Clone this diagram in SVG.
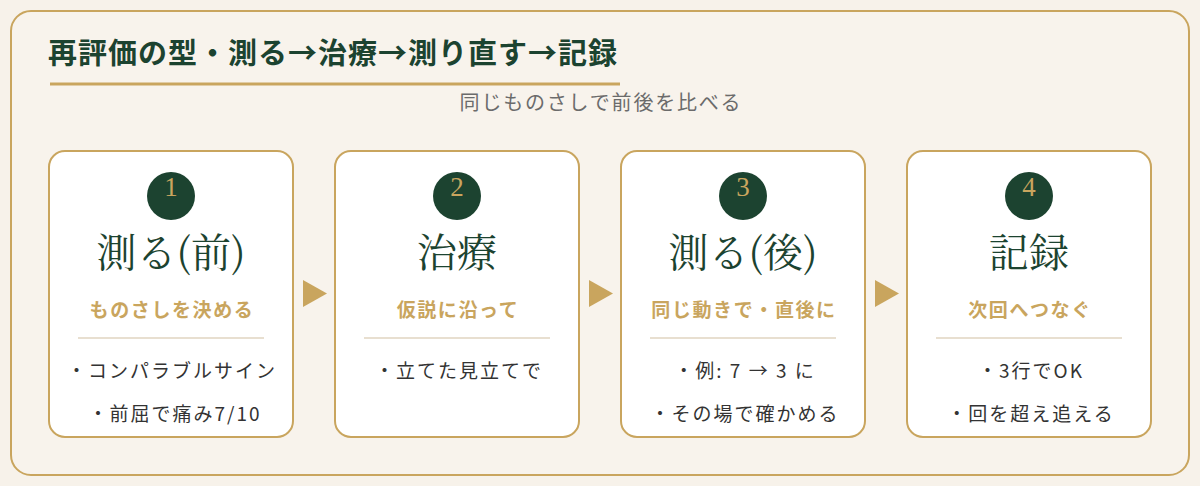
<svg xmlns="http://www.w3.org/2000/svg" width="1200" height="486" viewBox="0 0 1200 486">
  <defs>
    <style>
      .bg { fill: #F7F2EA; }
      .frame { fill: #F8F3EC; stroke: #C9A55E; stroke-width: 2; }
      .title { font-family: "Noto Sans CJK JP", sans-serif; font-weight: 700; font-size: 29px; fill: #1C4330; letter-spacing: 1px; }
      .subtitle { font-family: "Noto Sans CJK JP", sans-serif; font-size: 20px; fill: #6B6B6B; letter-spacing: 1.8px; text-anchor: middle; }
      .card { fill: #FFFFFF; stroke: #C9A55E; stroke-width: 2; }
      .badge { fill: #1C4330; }
      .num { font-family: "Liberation Serif", "Noto Serif CJK JP", serif; font-size: 27px; fill: #C9A55E; text-anchor: middle; }
      .head { font-family: "Noto Serif CJK JP", "Liberation Serif", "Noto Sans CJK JP", serif; font-size: 40px; fill: #1C4330; text-anchor: middle; }
      .sub { font-family: "Noto Sans CJK JP", sans-serif; font-weight: 700; font-size: 19px; fill: #C9A55E; text-anchor: middle; letter-spacing: 1.6px; }
      .div { stroke: #E8DFD0; stroke-width: 2; }
      .item { font-family: "Noto Sans CJK JP", sans-serif; font-size: 19px; fill: #333333; text-anchor: middle; letter-spacing: 2px; }
      .arrow { fill: #C9A55E; }
    </style>
  </defs>
  <rect class="bg" x="0" y="0" width="1200" height="486"/>
  <rect class="frame" x="11" y="11" width="1178" height="464" rx="20" ry="20"/>

  <g id="header">
    <text class="title" x="48" y="64">再評価の型・測る→治療→測り直す→記録</text>
    <line x1="50" y1="84" x2="620" y2="84" stroke="#C9A55E" stroke-width="3"/>
    <text class="subtitle" x="601" y="110">同じものさしで前後を比べる</text>
  </g>

  <g id="connectors">
    <polygon class="arrow" points="303,280 327,293.5 303,307"/>
    <polygon class="arrow" points="589,280 613,293.5 589,307"/>
    <polygon class="arrow" points="875,280 899,293.5 875,307"/>
  </g>

  <g id="step1">
    <rect class="card" x="49" y="151" width="244" height="286" rx="16" ry="16"/>
    <circle class="badge" cx="171" cy="196" r="24"/>
    <text class="num" x="171" y="196">1</text>
    <text class="head" x="171" y="267">測る(前)</text>
    <text class="sub" x="172" y="317">ものさしを決める</text>
    <line class="div" x1="78" y1="338" x2="264" y2="338"/>
    <text class="item" x="172" y="378">・コンパラブルサイン</text>
    <text class="item" x="175" y="421">・前屈で痛み7/10</text>
  </g>

  <g id="step2">
    <rect class="card" x="335" y="151" width="244" height="286" rx="16" ry="16"/>
    <circle class="badge" cx="457" cy="196" r="24"/>
    <text class="num" x="457" y="196">2</text>
    <text class="head" x="457" y="267">治療</text>
    <text class="sub" x="458" y="317">仮説に沿って</text>
    <line class="div" x1="364" y1="338" x2="550" y2="338"/>
    <text class="item" x="459" y="378">・立てた見立てで</text>
  </g>

  <g id="step3">
    <rect class="card" x="621" y="151" width="244" height="286" rx="16" ry="16"/>
    <circle class="badge" cx="743" cy="196" r="24"/>
    <text class="num" x="743" y="196">3</text>
    <text class="head" x="743" y="267">測る(後)</text>
    <text class="sub" x="744" y="317">同じ動きで・直後に</text>
    <line class="div" x1="650" y1="338" x2="836" y2="338"/>
    <text class="item" x="745" y="378">・例: 7 → 3 に</text>
    <text class="item" x="745" y="421">・その場で確かめる</text>
  </g>

  <g id="step4">
    <rect class="card" x="907" y="151" width="244" height="286" rx="16" ry="16"/>
    <circle class="badge" cx="1029" cy="196" r="24"/>
    <text class="num" x="1029" y="196">4</text>
    <text class="head" x="1029" y="267">記録</text>
    <text class="sub" x="1030" y="317">次回へつなぐ</text>
    <line class="div" x1="936" y1="338" x2="1122" y2="338"/>
    <text class="item" x="1031" y="378">・3行でOK</text>
    <text class="item" x="1031" y="421">・回を超え追える</text>
  </g>
</svg>
